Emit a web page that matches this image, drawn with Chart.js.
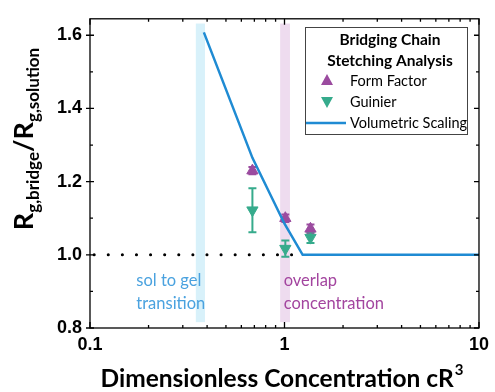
<!DOCTYPE html>
<html>
<head>
<meta charset="utf-8">
<script src="https://cdn.jsdelivr.net/npm/chart.js@4.4.1/dist/chart.umd.min.js"></script>
<style>
    html, body { margin: 0; padding: 0; background: #fff; }
    #wrap { width: 495px; height: 392px; }
</style>
</head>
<body>
<div id="wrap"><canvas id="graph" width="495" height="392"></canvas></div>
<script>
// values
const formX = [0.684, 1.01, 1.36];
const formY = [1.23, 1.10, 1.071];
const formErr = [0.01, 0.01, 0.012];

const guinierX = [0.684, 1.01, 1.36];
const guinierY = [1.122, 1.017, 1.047];
const guinierErr = [0.06, 0.022, 0.015];

const scalingX = [0.385, 0.5, 0.684, 1.0, 1.24, 10];
const scalingY = [1.608, 1.452, 1.265, 1.085, 1.0, 1.0];

const refX = [0.105, 1.24];
const refY = [1.0, 1.0];

const xTickLabels = [0.1, 1, 10];
const yTickLabels = [0.8, 1.0, 1.2, 1.4, 1.6];

const bandLabels = ["sol to gel|transition", "overlap|concentration"];
const bandFrom = [0.35, 0.95];
const bandTo = [0.39, 1.067];

const legendTitle = ["Bridging Chain", "Stetching Analysis"];
const seriesNames = ["Form Factor", "Guinier", "Volumetric Scaling"];

const PURPLE = "#9b4b9f";
const TEAL = "#36ab8c";
const BLUE = "#1f8bd3";
const SANS = "Lato, 'Open Sans', sans-serif";
const BOLD_NUM = "'Liberation Sans', Arial, sans-serif";

const toPoints = (xs, ys) => xs.map((x, i) => ({ x: x, y: ys[i] }));

const decor = {
    id: 'decor',
    beforeDatasetsDraw(chart) {
        const ctx = chart.ctx, x = chart.scales.x, y = chart.scales.y;
        const cols = ["rgba(190,232,247,0.6)", "rgba(226,196,228,0.6)"];
        ctx.save();
        bandFrom.forEach((b, i) => {
            const l = x.getPixelForValue(b), r = x.getPixelForValue(bandTo[i]);
            const t = y.getPixelForValue(1.632), btm = y.getPixelForValue(0.816);
            ctx.fillStyle = cols[i];
            ctx.fillRect(l, t, r - l, btm - t);
        });
        // band texts
        ctx.font = "16.5px " + SANS;
        ctx.textBaseline = "alphabetic";
        const txtCol = ["#4aa2df", "#a3459f"];
        const txtX = [0.173, 0.99];
        bandLabels.forEach((s, i) => {
            ctx.fillStyle = txtCol[i];
            s.split("|").forEach((line, k) => {
                ctx.fillText(line, x.getPixelForValue(txtX[i]), y.getPixelForValue(0.916) + k * 23);
            });
        });
        // error bars
        const bars = (xs, ys, es, col, cap) => {
            ctx.strokeStyle = col;
            ctx.lineWidth = 2;
            xs.forEach((v, i) => {
                const px = x.getPixelForValue(v);
                const a = y.getPixelForValue(ys[i] + es[i]), b = y.getPixelForValue(ys[i] - es[i]);
                ctx.beginPath();
                ctx.moveTo(px, a); ctx.lineTo(px, b);
                ctx.moveTo(px - cap, a); ctx.lineTo(px + cap, a);
                ctx.moveTo(px - cap, b); ctx.lineTo(px + cap, b);
                ctx.stroke();
            });
        };
        bars(formX, formY, formErr, PURPLE, 4);
        bars(guinierX, guinierY, guinierErr, TEAL, 4);
        ctx.restore();
    },
    afterDraw(chart) {
        const ctx = chart.ctx, x = chart.scales.x, y = chart.scales.y, a = chart.chartArea;
        ctx.save();
        ctx.strokeStyle = "#000";
        ctx.lineWidth = 1.3;
        ctx.strokeRect(a.left, a.top, a.right - a.left, a.bottom - a.top);

        ctx.beginPath();
        for (let d = 0.1; d < 10; d *= 10) {
            for (let m = 1; m <= 10; m++) {
                const v = d * m;
                if (v > 10.0001) continue;
                const px = x.getPixelForValue(v);
                const len = (m === 1 || m === 10) ? 6 : 3;
                ctx.moveTo(px, a.bottom); ctx.lineTo(px, a.bottom - len);
                ctx.moveTo(px, a.top); ctx.lineTo(px, a.top + len);
            }
        }
        for (let k = 8; k <= 16; k++) {
            const py = y.getPixelForValue(k / 10);
            const major = k % 2 === 0;
            ctx.moveTo(a.left - (major ? 4 : 0), py); ctx.lineTo(a.left + (major ? 4 : 3), py);
            ctx.moveTo(a.right, py); ctx.lineTo(a.right - (major ? 5 : 3), py);
        }
        ctx.stroke();

        // x title
        ctx.fillStyle = "#000";
        ctx.textBaseline = "alphabetic";
        ctx.textAlign = "left";
        ctx.font = "bold 24.5px " + SANS;
        const main = "Dimensionless Concentration cR";
        const w = ctx.measureText(main).width;
        ctx.font = "bold 15px " + SANS;
        const sw = ctx.measureText("3").width;
        const cx = (a.left + a.right) / 2 - 3;
        ctx.font = "bold 24.5px " + SANS;
        ctx.fillText(main, cx - (w + sw) / 2, 387);
        ctx.font = "bold 15px " + SANS;
        ctx.fillText("3", cx - (w + sw) / 2 + w + 1, 375);

        // y title with subscripts
        ctx.translate(33, 139);
        ctx.rotate(-Math.PI / 2);
        const parts = [["R", 0], ["g,bridge", 1], ["/R", 0], ["g,solution", 1]];
        const big = "bold 27px " + SANS, small = "bold 17px " + SANS;
        let total = 0;
        parts.forEach(p => {
            ctx.font = p[1] ? small : big;
            total += ctx.measureText(p[0]).width;
        });
        let px = -total / 2;
        parts.forEach(p => {
            ctx.font = p[1] ? small : big;
            ctx.fillText(p[0], px, p[1] ? 6 : 0);
            px += ctx.measureText(p[0]).width;
        });
        ctx.restore();

        // legend
        ctx.save();
        ctx.strokeStyle = "#444";
        ctx.lineWidth = 1;
        ctx.strokeRect(305.5, 27.5, 162, 107);
        ctx.fillStyle = "#000";
        ctx.textAlign = "center";
        ctx.textBaseline = "middle";
        ctx.font = "bold 15.5px " + SANS;
        ctx.fillText(legendTitle[0], 390, 40);
        ctx.fillText(legendTitle[1], 390, 61);
        ctx.textAlign = "left";
        ctx.font = "14.5px " + SANS;
        const rows = [81, 102, 123];
        seriesNames.forEach((s, i) => ctx.fillText(s, 350, rows[i]));
        ctx.fillStyle = PURPLE;
        ctx.beginPath();
        ctx.moveTo(327, 74); ctx.lineTo(333, 85); ctx.lineTo(321, 85); ctx.closePath();
        ctx.fill();
        ctx.fillStyle = TEAL;
        ctx.beginPath();
        ctx.moveTo(321, 97); ctx.lineTo(333, 97); ctx.lineTo(327, 108); ctx.closePath();
        ctx.fill();
        ctx.strokeStyle = BLUE;
        ctx.lineWidth = 2.5;
        ctx.beginPath();
        ctx.moveTo(306, 123); ctx.lineTo(346, 123);
        ctx.stroke();
        ctx.restore();
    }
};

let chart = new Chart(document.querySelector("#graph").getContext("2d"), {
    type: 'scatter',
    data: {
        datasets: [
            {
                label: 'reference',
                data: toPoints(refX, refY),
                showLine: true,
                borderColor: '#000',
                borderWidth: 3,
                borderDash: [0.1, 14],
                borderCapStyle: 'round',
                pointRadius: 0
            },
            {
                label: seriesNames[2],
                data: toPoints(scalingX, scalingY),
                showLine: true,
                borderColor: BLUE,
                borderWidth: 2.5,
                pointRadius: 0
            },
            {
                label: seriesNames[0],
                data: toPoints(formX, formY),
                pointStyle: 'triangle',
                pointRadius: 6.5,
                backgroundColor: PURPLE,
                borderColor: PURPLE
            },
            {
                label: seriesNames[1],
                data: toPoints(guinierX, guinierY),
                pointStyle: 'triangle',
                rotation: 180,
                pointRadius: 6.5,
                backgroundColor: TEAL,
                borderColor: TEAL
            }
        ]
    },
    options: {
        responsive: false,
        animation: false,
        layout: { padding: { top: 11, right: 12, left: 0, bottom: 0 } },
        plugins: { legend: { display: false }, tooltip: { enabled: false } },
        scales: {
            x: {
                type: 'logarithmic',
                min: 0.1,
                max: 10,
                grid: { display: false, drawTicks: false },
                border: { display: false },
                afterFit(scale) { scale.height = 64; },
                afterBuildTicks(scale) { scale.ticks = xTickLabels.map(v => ({ value: v })); },
                ticks: {
                    autoSkip: false,
                    maxRotation: 0,
                    padding: 6,
                    color: '#000',
                    font: { family: BOLD_NUM, size: 18, weight: 'bold' },
                    callback: v => String(v)
                }
            },
            y: {
                min: 0.8,
                max: 1.645,
                grid: { display: false, drawTicks: false },
                border: { display: false },
                afterFit(scale) { scale.width = 90; },
                afterBuildTicks(scale) { scale.ticks = yTickLabels.map(v => ({ value: v })); },
                ticks: {
                    padding: 8,
                    color: '#000',
                    font: { family: BOLD_NUM, size: 18, weight: 'bold' },
                    callback: v => v.toFixed(1)
                }
            }
        }
    },
    plugins: [decor]
});
</script>
</body>
</html>
